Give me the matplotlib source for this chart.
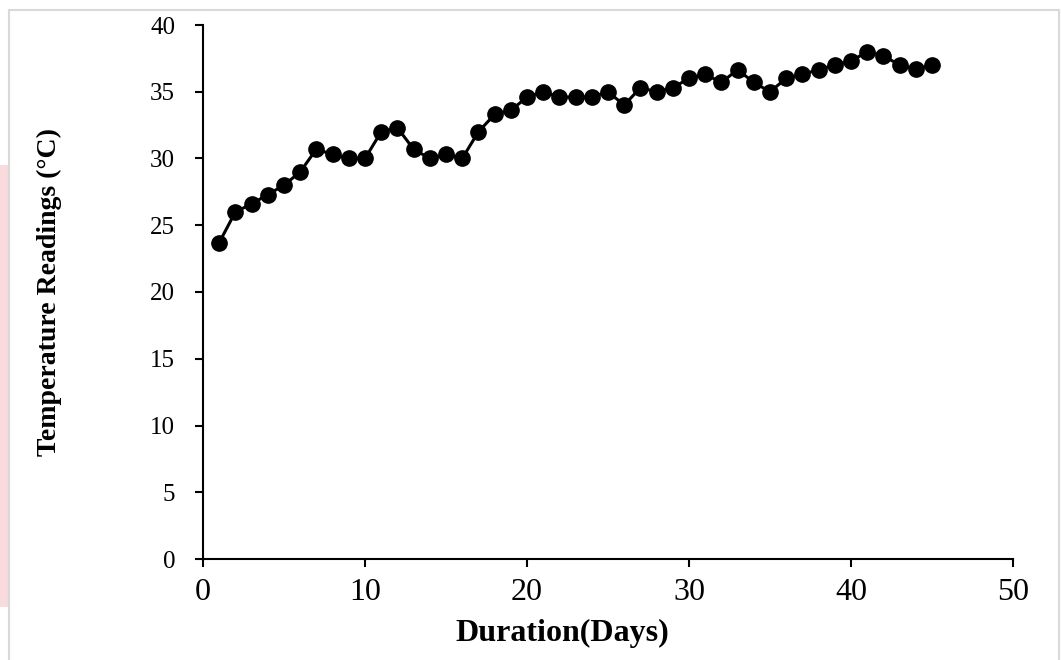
import matplotlib.pyplot as plt
from matplotlib.patches import Rectangle

plt.rcParams['font.family'] = ['Liberation Serif', 'DejaVu Serif']

days = list(range(1, 46))
temps = [23.7, 26.0, 26.6, 27.3, 28.0, 29.0, 30.7, 30.3, 30.0, 30.0,
         32.0, 32.3, 30.7, 30.0, 30.3, 30.0, 32.0, 33.3, 33.6, 34.6,
         35.0, 34.6, 34.6, 34.6, 35.0, 34.0, 35.3, 35.0, 35.3, 36.0,
         36.3, 35.7, 36.65, 35.7, 35.0, 36.0, 36.3, 36.65, 37.0, 37.3,
         38.0, 37.7, 37.0, 36.7, 37.0]

fig = plt.figure(figsize=(10.61, 6.6), dpi=100)

# faint page edge and pink strip on the left, as in the scanned figure
fig.patches.append(Rectangle((0, 0.08), 9 / 1061, 0.67, transform=fig.transFigure,
                             facecolor='#f9dadd', edgecolor='none', zorder=0))
fig.patches.append(Rectangle((9 / 1061, -0.01), 1050 / 1061, 0.003 + 655 / 660,
                             transform=fig.transFigure, facecolor='none',
                             edgecolor='#d9d9d9', linewidth=1.5, zorder=0))

ax = fig.add_axes([203 / 1061, 101 / 660, 810 / 1061, 534 / 660])
ax.plot(days, temps, color='black', linewidth=2.2, marker='o', markersize=11)

ax.set_xlim(0, 50)
ax.set_ylim(0, 40)
ax.set_xticks(range(0, 51, 10))
ax.set_yticks(range(0, 41, 5))
ax.spines['top'].set_visible(False)
ax.spines['right'].set_visible(False)
for s in ('left', 'bottom'):
    ax.spines[s].set_linewidth(1.5)
ax.tick_params(direction='out', length=6, width=1.5)
ax.tick_params(axis='x', labelsize=23, pad=8)
ax.tick_params(axis='y', labelsize=18, pad=14)

ax.set_xlabel('Duration(Days)', fontsize=23, fontweight='bold')
ax.set_ylabel('Temperature Readings (°C)', fontsize=20, fontweight='bold')
ax.xaxis.set_label_coords(0.443, -0.112)
ax.yaxis.set_label_coords(-0.174, 0.5)

fig.savefig('out.png', dpi=100)
